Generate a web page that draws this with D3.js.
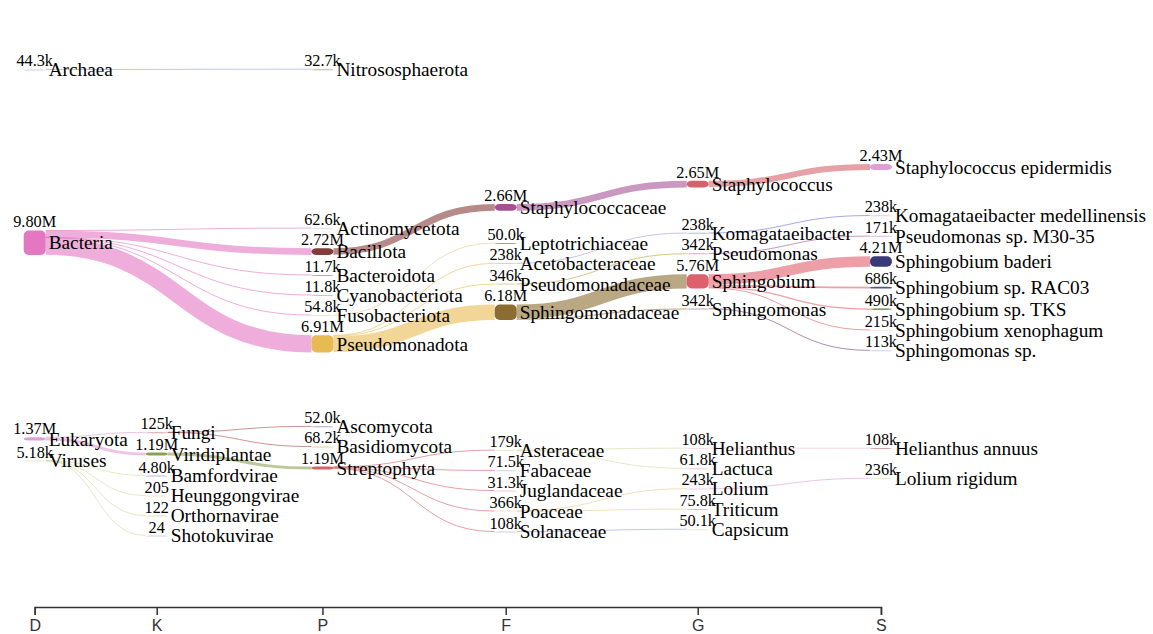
<!DOCTYPE html>
<html>
<head>
<meta charset="utf-8">
<script src="https://cdn.jsdelivr.net/npm/d3@7"></script>
<style>
  body { margin: 0; background: #fff; }
  .label { font-family: "Liberation Serif", "Times New Roman", serif; font-size: 19.3px; fill: #000; }
  .value { font-family: "Liberation Serif", "Times New Roman", serif; font-size: 16.3px; fill: #000; }
  .axis text { font-family: "Liberation Sans", Arial, sans-serif; font-size: 16px; fill: #333; }
  .axis path, .axis line { stroke: #333; stroke-width: 1.5; }
</style>
</head>
<body>
<svg id="chart" width="1153" height="634"></svg>
<script>
const ranks = ["D", "K", "P", "F", "G", "S"];

// taxa in report order (hierarchical, alphabetical inside each parent)
const taxa = [
    "Archaea", "Bacteria", "Eukaryota", "Viruses",
    "Fungi", "Viridiplantae", "Bamfordvirae", "Heunggongvirae", "Orthornavirae", "Shotokuvirae",
    "Nitrososphaerota", "Actinomycetota", "Bacillota", "Bacteroidota", "Cyanobacteriota", "Fusobacteriota",
    "Pseudomonadota", "Ascomycota", "Basidiomycota", "Streptophyta",
    "Staphylococcaceae", "Leptotrichiaceae", "Acetobacteraceae", "Pseudomonadaceae", "Sphingomonadaceae",
    "Asteraceae", "Fabaceae", "Juglandaceae", "Poaceae", "Solanaceae",
    "Staphylococcus", "Komagataeibacter", "Pseudomonas", "Sphingobium", "Sphingomonas",
    "Helianthus", "Lactuca", "Lolium", "Triticum", "Capsicum",
    "Staphylococcus epidermidis", "Komagataeibacter medellinensis", "Pseudomonas sp. M30-35", "Sphingobium baderi",
    "Sphingobium sp. RAC03", "Sphingobium sp. TKS", "Sphingobium xenophagum", "Sphingomonas sp.",
    "Helianthus annuus", "Lolium rigidum"
];

const taxonRank = [
    "D", "D", "D", "D",
    "K", "K", "K", "K", "K", "K",
    "P", "P", "P", "P", "P", "P", "P", "P", "P", "P",
    "F", "F", "F", "F", "F", "F", "F", "F", "F", "F",
    "G", "G", "G", "G", "G", "G", "G", "G", "G", "G",
    "S", "S", "S", "S", "S", "S", "S", "S", "S", "S"
];

// clade reads
const reads = [
    44300, 9800000, 1370000, 5180,
    125000, 1190000, 4800, 205, 122, 24,
    32700, 62600, 2720000, 11700, 11800, 54800, 6910000, 52000, 68200, 1190000,
    2660000, 50000, 238000, 346000, 6180000, 179000, 71500, 31300, 366000, 108000,
    2650000, 238000, 342000, 5760000, 342000, 108000, 61800, 243000, 75800, 50100,
    2430000, 238000, 171000, 4210000, 686000, 490000, 215000, 113000, 108000, 236000
];

const parents = [
    null, null, null, null,
    "Eukaryota", "Eukaryota", "Viruses", "Viruses", "Viruses", "Viruses",
    "Archaea", "Bacteria", "Bacteria", "Bacteria", "Bacteria", "Bacteria", "Bacteria", "Fungi", "Fungi", "Viridiplantae",
    "Bacillota", "Fusobacteriota", "Pseudomonadota", "Pseudomonadota", "Pseudomonadota",
    "Streptophyta", "Streptophyta", "Streptophyta", "Streptophyta", "Streptophyta",
    "Staphylococcaceae", "Acetobacteraceae", "Pseudomonadaceae", "Sphingomonadaceae", "Sphingomonadaceae",
    "Asteraceae", "Asteraceae", "Poaceae", "Poaceae", "Solanaceae",
    "Staphylococcus", "Komagataeibacter", "Pseudomonas", "Sphingobium",
    "Sphingobium", "Sphingobium", "Sphingobium", "Sphingomonas", "Helianthus", "Lolium"
];

// node colours, same order as taxa
const palette = [
    "#9c9ede", "#e377c2", "#de9ed6", "#cedb9c",
    "#ad494a", "#8ca252", "#6b6ecf", "#e7cb94", "#b5cf6b", "#9c9ede",
    "#637939", "#c7c7c7", "#843c39", "#7b4173", "#17becf", "#e7cb94", "#e7ba52", "#5254a3", "#bd9e39", "#d6616b",
    "#a55194", "#393b79", "#9c9ede", "#bd9e39", "#8c6d31", "#cedb9c", "#9c9ede", "#e7969c", "#e7cb94", "#9c9ede",
    "#d6616b", "#6b6ecf", "#a55194", "#e05f6c", "#7b4173", "#f7b6d2", "#e7969c", "#de9ed6", "#ce6dbd", "#cedb9c",
    "#de9ed6", "#e7969c", "#ce6dbd", "#393b79", "#5254a3", "#637939", "#e7cb94", "#9c9ede", "#ad494a", "#cedb9c"
];

const ky = 2.5e-6;       // px per read
const nodeWidth = 22;
const nodePadding = 20;
const yTop = 28, yBottom = 575;
const iterations = 2;
const axisY = 607;

const color = d3.scaleOrdinal().domain(taxa).range(palette);
const fmt = v => v < 1000 ? String(v) : d3.format(".3s")(v);

var nodes = taxa.map((name, i) => ({ name: name, rank: taxonRank[i], value: reads[i], dy: reads[i] * ky, sourceLinks: [], targetLinks: [] }));
var byName = new Map(nodes.map(n => [n.name, n]));
var links = [];
parents.forEach((p, i) => {
    if (!p) return;
    let l = { source: byName.get(p), target: nodes[i], value: reads[i] };
    l.dy = l.value * ky;
    l.source.sourceLinks.push(l);
    l.target.targetLinks.push(l);
    links.push(l);
});

var columns = ranks.map(r => nodes.filter(n => n.rank == r));

// column spacing grows with the longest name in the previous column
var colX = [34.7];
for (let c = 1; c < ranks.length; c++) {
    colX.push(colX[c - 1] + 43.25 + 8.75 * d3.max(columns[c - 1], n => n.name.length));
}
var x = d3.scaleOrdinal().domain(ranks).range(colX);
nodes.forEach(n => n.x = x(n.rank) - nodeWidth / 2);

// ---- node breadths: spread each column, then a short relaxation ----
function center(n) { return n.y + n.dy / 2; }

function resolveCollisions() {
    columns.forEach(col => {
        let y0 = yTop;
        col.forEach(n => {
            if (n.y < y0) n.y = y0;
            y0 = n.y + n.dy + nodePadding;
        });
        let over = y0 - nodePadding - yBottom;
        if (over > 0) {
            let last = col[col.length - 1];
            last.y -= over;
            y0 = last.y;
            for (let i = col.length - 2; i >= 0; i--) {
                let n = col[i];
                let d = n.y + n.dy + nodePadding - y0;
                if (d > 0) n.y -= d;
                y0 = n.y;
            }
        }
    });
}

columns.forEach(col => {
    let total = d3.sum(col, n => n.dy) + nodePadding * (col.length - 1);
    let gap = (yBottom - yTop - total) / (col.length + 1);
    let y = yTop;
    col.forEach((n, i) => { n.y = y + gap * (i + 1); y += n.dy + nodePadding; });
});
resolveCollisions();

for (let alpha = 1, it = iterations; it > 0; it--) {
    alpha *= 0.8;
    columns.slice().reverse().forEach(col => col.forEach(n => {
        if (n.sourceLinks.length) {
            let y = d3.sum(n.sourceLinks, l => center(l.target) * l.value) / d3.sum(n.sourceLinks, l => l.value);
            n.y += (y - center(n)) * alpha;
        }
    }));
    resolveCollisions();
    columns.forEach(col => col.forEach(n => {
        if (n.targetLinks.length) {
            let y = d3.sum(n.targetLinks, l => center(l.source) * l.value) / d3.sum(n.targetLinks, l => l.value);
            n.y += (y - center(n)) * alpha;
        }
    }));
    resolveCollisions();
}

nodes.forEach(n => {
    n.sourceLinks.sort((a, b) => a.target.y - b.target.y);
    n.targetLinks.sort((a, b) => a.source.y - b.source.y);
    let sy = 0, ty = 0;
    n.sourceLinks.forEach(l => { l.sy = sy; sy += l.dy; });
    n.targetLinks.forEach(l => { l.ty = ty; ty += l.dy; });
});

// ---- drawing ----
var svg = d3.select('#chart');
svg.append('rect').attr('width', 1153).attr('height', 634).attr('fill', '#fff');

var linkPath = d3.linkHorizontal().x(d => d[0]).y(d => d[1]);

svg.append('g')
    .selectAll('path')
    .data(links.slice().sort((a, b) => b.dy - a.dy))
    .enter()
    .append('path')
    .attr('d', l => linkPath({
        source: [l.source.x + nodeWidth, l.source.y + l.sy + l.dy / 2],
        target: [l.target.x, l.target.y + l.ty + l.dy / 2]
    }))
    .attr('fill', 'none')
    .attr('stroke', l => color(l.source.name))
    .attr('stroke-opacity', 0.6)
    .attr('stroke-width', l => Math.max(1, l.dy));

var node = svg.append('g')
    .selectAll('g')
    .data(nodes)
    .enter()
    .append('g');

node.append('rect')
    .attr('x', n => n.x)
    .attr('y', n => n.y)
    .attr('width', nodeWidth)
    .attr('height', n => Math.max(1, n.dy))
    .attr('rx', 5)
    .attr('fill', n => color(n.name))
    .attr('fill-opacity', n => n.dy < 1 ? 0.5 : 1);

node.append('text')
    .attr('class', 'value')
    .attr('x', n => n.x + nodeWidth / 2)
    .attr('y', n => n.y - 3)
    .attr('text-anchor', 'middle')
    .text(n => fmt(n.value));

node.append('text')
    .attr('class', 'label')
    .attr('x', n => n.x + nodeWidth + 3)
    .attr('y', n => center(n))
    .attr('dy', '0.35em')
    .text(n => n.name);

svg.append('g')
    .attr('class', 'axis')
    .attr('transform', `translate(0,${axisY})`)
    .call(d3.axisBottom(x).tickSize(8).tickPadding(5));
</script>
</body>
</html>
